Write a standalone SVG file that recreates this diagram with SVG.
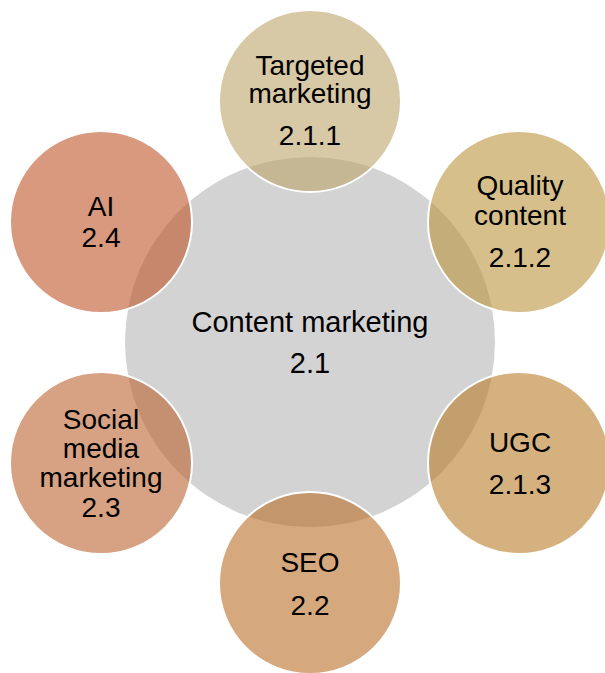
<svg xmlns="http://www.w3.org/2000/svg" width="605" height="673" viewBox="0 0 605 673">
<style>
text{font-family:"Liberation Sans",Arial,sans-serif;font-size:28px;fill:#000;text-anchor:middle}
.big{font-size:29px}
.sat{fill-opacity:0.6;stroke:#fff;stroke-width:2}
</style>
<rect width="605" height="673" fill="#fff"/>
<g id="center">
<circle cx="310" cy="342" r="185" fill="#d3d3d3"/>
<text class="big" x="310" y="332">Content marketing</text>
<text class="big" x="310" y="373">2.1</text>
</g>
<g id="connectors"></g>
<g id="targeted">
<circle class="sat" cx="310" cy="101" r="91" fill="#bca36b"/>
<text x="310" y="75">Targeted</text>
<text x="310" y="103">marketing</text>
<text x="310" y="145">2.1.1</text>
</g>
<g id="quality">
<circle class="sat" cx="519" cy="222" r="91" fill="#bb943c"/>
<text x="520" y="195">Quality</text>
<text x="520" y="225">content</text>
<text x="520" y="267">2.1.2</text>
</g>
<g id="ugc">
<circle class="sat" cx="519" cy="463" r="91" fill="#bb7d2b"/>
<text x="520" y="452">UGC</text>
<text x="520" y="494">2.1.3</text>
</g>
<g id="seo">
<circle class="sat" cx="310" cy="583" r="91" fill="#bb6e28"/>
<text x="310" y="572">SEO</text>
<text x="310" y="615">2.2</text>
</g>
<g id="social">
<circle class="sat" cx="101" cy="463" r="91" fill="#bb6430"/>
<text x="101" y="429">Social</text>
<text x="101" y="458">media</text>
<text x="101" y="487">marketing</text>
<text x="101" y="517">2.3</text>
</g>
<g id="ai">
<circle class="sat" cx="101" cy="222" r="91" fill="#be5528"/>
<text x="101" y="216">AI</text>
<text x="101" y="247">2.4</text>
</g>
</svg>
